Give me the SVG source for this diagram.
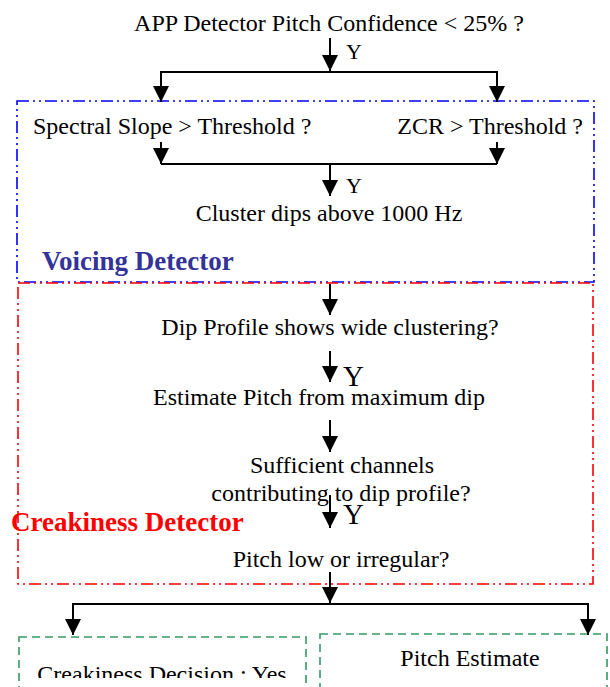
<svg xmlns="http://www.w3.org/2000/svg" width="610" height="687" viewBox="0 0 610 687">
<style>
text{font-family:"Liberation Serif","Times New Roman",serif;fill:#000}
.t{font-size:24px;text-anchor:middle}
.y{font-size:22px}
.yb{font-size:29px}
.ln{stroke:#000;stroke-width:2;fill:none}
.blue{stroke:#0000ff;stroke-width:1.6;fill:none;stroke-dasharray:12 4 2 4 2 4}
.red{stroke:#ff0000;stroke-width:1.6;fill:none;stroke-dasharray:12 4 2 4 2 4}
.green{stroke:#339966;stroke-width:1.6;fill:none;stroke-dasharray:8 5}
.lab{font-size:27px;font-weight:bold}
</style>
<defs>
<marker id="ah" viewBox="0 0 16 16" refX="16" refY="8" markerWidth="16" markerHeight="16" markerUnits="userSpaceOnUse" orient="auto-start-reverse">
<path d="M0,0 L16,8 L0,16 Z" fill="#000"/>
</marker>
<clipPath id="clipBottom"><rect x="0" y="0" width="610" height="678"/></clipPath>
</defs>

<g id="voicing-detector">
<rect class="blue" x="17" y="101" width="577" height="181"/>
<text class="lab" x="42" y="270" style="fill:#333399">Voicing Detector</text>
</g>
<g id="creakiness-detector">
<rect class="red" x="18" y="283" width="575" height="301"/>
<text class="lab" x="11" y="531" style="fill:#ff0000">Creakiness Detector</text>
</g>

<g id="n-app"><text class="t" x="329" y="31">APP Detector Pitch Confidence &lt; 25% ?</text></g>
<g id="n-slope"><text x="33" y="134" style="font-size:24px">Spectral Slope &gt; Threshold ?</text></g>
<g id="n-zcr"><text x="583" y="134" style="font-size:24px;text-anchor:end">ZCR &gt; Threshold ?</text></g>
<g id="n-cluster"><text class="t" x="329" y="221">Cluster dips above 1000 Hz</text></g>
<g id="n-dip"><text class="t" x="330" y="335">Dip Profile shows wide clustering?</text></g>
<g id="n-estimate"><text class="t" x="319" y="405">Estimate Pitch from maximum dip</text></g>
<g id="n-sufficient"><text class="t" x="342" y="473">Sufficient channels</text><text class="t" x="341" y="501">contributing to dip profile?</text></g>
<g id="n-pitchlow"><text class="t" x="341" y="567">Pitch low or irregular?</text></g>
<g id="n-decision">
<rect class="green" x="19" y="637" width="287" height="60"/>
<text class="t" x="162" y="682" clip-path="url(#clipBottom)">Creakiness Decision : Yes</text>
</g>
<g id="n-pitchest">
<rect class="green" x="320" y="634" width="287" height="60"/>
<text class="t" x="470" y="666">Pitch Estimate</text>
</g>

<g id="connectors">
<line class="ln" x1="330" y1="38" x2="330" y2="71" marker-end="url(#ah)"/>
<text class="y" x="346" y="59">Y</text>
<polyline class="ln" points="161,102 161,72 497,72 497,102" marker-start="url(#ah)" marker-end="url(#ah)"/>
<line class="ln" x1="161" y1="142" x2="161" y2="164" marker-end="url(#ah)"/>
<line class="ln" x1="497" y1="142" x2="497" y2="164" marker-end="url(#ah)"/>
<line class="ln" x1="161" y1="164" x2="497" y2="164"/>
<line class="ln" x1="330" y1="164" x2="330" y2="196" marker-end="url(#ah)"/>
<text class="y" x="346" y="193">Y</text>
<line class="ln" x1="330" y1="284" x2="330" y2="315" marker-end="url(#ah)"/>
<line class="ln" x1="330" y1="351" x2="330" y2="382" marker-end="url(#ah)"/>
<text class="yb" x="343" y="386">Y</text>
<line class="ln" x1="330" y1="420" x2="330" y2="452" marker-end="url(#ah)"/>
<line class="ln" x1="330" y1="495" x2="330" y2="528" marker-end="url(#ah)"/>
<text class="yb" x="343" y="524">Y</text>
<line class="ln" x1="330" y1="572" x2="330" y2="603" marker-end="url(#ah)"/>
<polyline class="ln" points="73,635 73,604 588,604 588,635" marker-start="url(#ah)" marker-end="url(#ah)"/>
</g>
</svg>
